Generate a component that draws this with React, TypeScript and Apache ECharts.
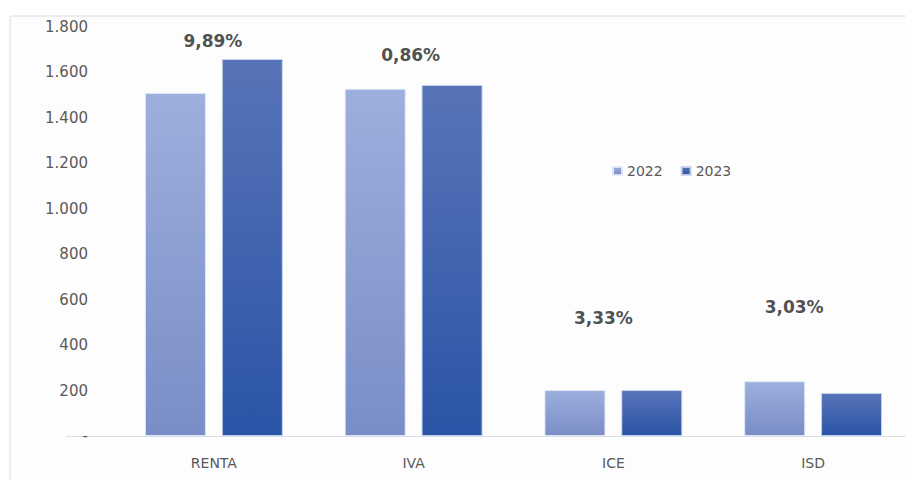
import React, { useEffect, useRef } from "react";
import * as echarts from "echarts";

const categories = ["RENTA", "IVA", "ICE", "ISD"];
const values2022 = [1510, 1528, 202, 241];
const values2023 = [1659, 1545, 202, 189];
const growthLabels = ["9,89%", "0,86%", "3,33%", "3,03%"];
const growthLabelHeights = [1738, 1677, 519, 568];
const growthLabelShift = [-1, -3, -10, -19];
const yTicks = [0, 200, 400, 600, 800, 1000, 1200, 1400, 1600, 1800];

const FONT = "DejaVu Sans";

function fmt(v: number): string {
  if (v === 0) return "-";
  return String(v).replace(/\B(?=(\d{3})+(?!\d))/g, ".");
}

export default function App() {
  const ref = useRef<HTMLDivElement>(null);
  useEffect(() => {
    if (!ref.current) return;
    const chart = echarts.init(ref.current, undefined, { renderer: "svg" });
    const grad = (a: string, b: string) =>
      new echarts.graphic.LinearGradient(0, 0, 0, 1, [
        { offset: 0, color: a },
        { offset: 1, color: b },
      ]);
    chart.setOption({
      animation: false,
      backgroundColor: "#ffffff",
      graphic: [
        {
          type: "rect",
          shape: { x: 10, y: 16, width: 1000, height: 600 },
          style: { fill: "#fdfdfe", stroke: "#d9dce3", lineWidth: 1 },
          z: -10,
          silent: true,
        },
        {
          type: "line",
          shape: { x1: 66, y1: 436.5, x2: 906, y2: 436.5 },
          style: { stroke: "#d9dde6", lineWidth: 1 },
          z: 0,
          silent: true,
        },
      ],
      legend: {
        data: ["2022", "2023"],
        left: 607,
        top: 159,
        itemWidth: 9,
        itemHeight: 8,
        itemGap: 18,
        icon: "rect",
        textStyle: { color: "#595959", fontSize: 14, fontFamily: FONT },
      },
      grid: {
        left: 114,
        width: 799,
        top: 27,
        height: 409,
        containLabel: false,
        outerBoundsMode: "none",
      },
      xAxis: {
        type: "category",
        data: categories,
        axisLine: { show: false },
        axisTick: { show: false },
        axisLabel: {
          color: "#595959",
          fontSize: 14,
          fontFamily: FONT,
          margin: 20,
        },
      },
      yAxis: {
        type: "value",
        min: 0,
        max: 1800,
        interval: 200,
        splitLine: { show: false },
        axisLine: { show: false },
        axisTick: { show: false },
        axisLabel: {
          color: "#595959",
          fontSize: 15,
          fontFamily: FONT,
          margin: 26,
          formatter: (v: number) => (yTicks.includes(v) ? fmt(v) : ""),
        },
      },
      series: [
        {
          name: "2022",
          type: "bar",
          data: values2022,
          barWidth: 61,
          barGap: "26%",
          itemStyle: {
            color: grad("#9dafdc", "#7a8dc6"),
            borderColor: "rgba(225,232,248,0.9)",
            borderWidth: 1,
          },
        },
        {
          name: "2023",
          type: "bar",
          data: values2023,
          barWidth: 61,
          barGap: "26%",
          itemStyle: {
            color: grad("#5874b8", "#2a54a6"),
            borderColor: "rgba(200,212,238,0.9)",
            borderWidth: 1,
          },
        },
        {
          name: "growth",
          type: "scatter",
          symbolSize: 0,
          silent: true,
          data: growthLabelHeights.map((h, i) => ({
            value: [categories[i], h],
            label: { offset: [growthLabelShift[i], 0] },
          })),
          label: {
            show: true,
            position: "inside",
            formatter: (p: any) => growthLabels[p.dataIndex],
            color: "#222222",
            fontSize: 17,
            fontWeight: "bold",
            fontFamily: FONT,
          },
          z: 5,
        },
      ],
    });
    return () => chart.dispose();
  }, []);
  return (
    <div
      ref={ref}
      style={{ position: "absolute", left: 0, top: 0, width: 906, height: 480 }}
    />
  );
}
